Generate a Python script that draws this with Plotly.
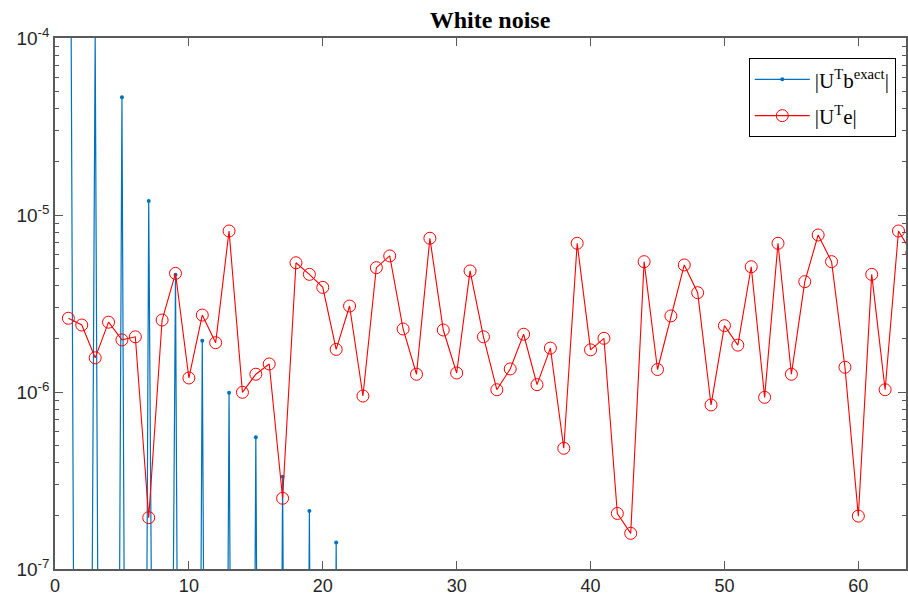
import plotly.graph_objects as go

# |U^T b_exact| (index 1..22); even entries are numerically ~zero
idx_b = list(range(1, 23))
ub_exact = [5.0e-1, 1e-18, 1.05e-4, 1e-20, 4.63e-5, 1e-21, 1.20e-5, 1e-16,
            4.6e-6, 1e-20, 1.95e-6, 1e-20, 9.9e-7, 1e-20, 5.55e-7, 1e-20,
            3.32e-7, 1e-20, 2.13e-7, 1e-20, 1.41e-7, 1e-20]

# |U^T e| (index 1..64)
idx_e = list(range(1, 65))
ue_noise = [2.61e-6, 2.39e-6, 1.56e-6, 2.48e-6, 1.97e-6, 2.05e-6, 1.95e-7, 2.55e-6,
            4.68e-6, 1.20e-6, 2.72e-6, 1.90e-6, 8.12e-6, 9.96e-7, 1.26e-6, 1.44e-6,
            2.51e-7, 5.37e-6, 4.62e-6, 3.90e-6, 1.74e-6, 3.06e-6, 9.49e-7, 5.04e-6,
            5.87e-6, 2.27e-6, 1.26e-6, 7.39e-6, 2.24e-6, 1.28e-6, 4.83e-6, 2.05e-6,
            1.03e-6, 1.35e-6, 2.12e-6, 1.10e-6, 1.77e-6, 4.81e-7, 6.92e-6, 1.73e-6,
            2.01e-6, 2.06e-7, 1.59e-7, 5.45e-6, 1.34e-6, 2.69e-6, 5.22e-6, 3.64e-6,
            8.45e-7, 2.37e-6, 1.84e-6, 5.10e-6, 9.33e-7, 6.92e-6, 1.26e-6, 4.20e-6,
            7.71e-6, 5.45e-6, 1.38e-6, 1.99e-7, 4.62e-6, 1.03e-6, 8.12e-6, 6.1e-6]

x_ticks = [0, 10, 20, 30, 40, 50, 60]
y_ticks = [1e-7, 1e-6, 1e-5, 1e-4]
y_ticktext = ["10<sup>-7</sup>", "10<sup>-6</sup>", "10<sup>-5</sup>", "10<sup>-4</sup>"]
y_minor = [m * 10.0 ** e for e in (-7, -6, -5) for m in range(2, 10)]

blue = "#0072BD"
red = "#FF0000"
axis_col = "#5a5a5a"
text_col = "#262626"

fig = go.Figure()
fig.add_trace(go.Scatter(
    x=idx_b, y=ub_exact, mode="lines+markers",
    name="|U<sup>T</sup>b<sup>exact</sup>|", legendgroup="b",
    line=dict(color=blue, width=1.2),
    marker=dict(color=blue, size=4, symbol="circle"),
))
fig.add_trace(go.Scatter(
    x=idx_e, y=ue_noise, mode="lines+markers",
    name="|U<sup>T</sup>e|", legendgroup="e",
    line=dict(color=red, width=1.1),
    marker=dict(color=red, size=12, symbol="circle-open", line=dict(width=1)),
))

fig.update_layout(
    width=908, height=603,
    margin=dict(l=55, r=0, t=38, b=34),
    paper_bgcolor="white", plot_bgcolor="white",
    title=dict(text="<b>White noise</b>", x=490 / 908, xanchor="center",
               y=1 - 20 / 603, yanchor="middle", xref="container",
               font=dict(family="Liberation Serif, Times New Roman, serif", size=24, color="#000")),
    showlegend=True,
    legend=dict(x=0.988, y=0.962, xanchor="right", yanchor="top",
                bgcolor="white", bordercolor="#000", borderwidth=1,
                itemwidth=55, tracegroupgap=6,
                font=dict(family="Liberation Serif, Times New Roman, serif", size=21, color="#000")),
    font=dict(family="Liberation Sans, Arial, sans-serif", size=18, color=text_col),
)
fig.update_xaxes(
    range=[0, 63.56], tickvals=x_ticks, ticks="inside", ticklen=8, tickwidth=1,
    tickcolor=axis_col, showline=True, linecolor=axis_col, linewidth=1.5,
    mirror="ticks", showgrid=False, zeroline=False,
    tickfont=dict(size=18, color=text_col),
)
fig.update_yaxes(
    type="log", range=[-7, -4], tickvals=y_ticks, ticktext=y_ticktext,
    ticks="inside", ticklen=8, tickwidth=1, tickcolor=axis_col,
    showline=True, linecolor=axis_col, linewidth=1.5, mirror="ticks",
    showgrid=False, zeroline=False,
    minor=dict(tickvals=y_minor, ticks="inside", ticklen=4, tickcolor=axis_col, showgrid=False),
    tickfont=dict(size=19, color=text_col),
)

fig.write_html("out.html")
